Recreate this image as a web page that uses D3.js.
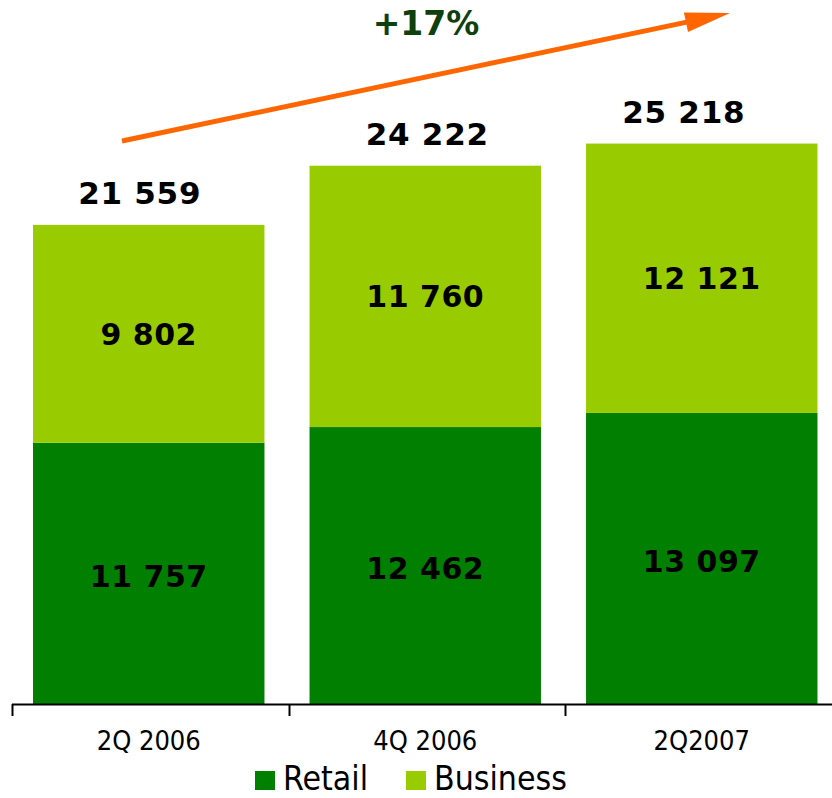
<!DOCTYPE html>
<html><head><meta charset="utf-8">
<script src="https://cdn.jsdelivr.net/npm/d3@7"></script>
<style>html,body{margin:0;padding:0;background:#fff;}svg{display:block;}</style>
</head><body>
<svg id="c" width="832" height="798"></svg>
<script>
const categories = ["2Q 2006", "4Q 2006", "2Q2007"];
const retail = [11757, 12462, 13097];
const business = [9802, 11760, 12121];
const totals = [21559, 24222, 25218];
const seriesNames = ["Retail", "Business"];
const seriesColors = ["#007f00", "#99cc00"];
const growthLabel = "+17%";
// layout-only: horizontal nudge of the total labels (as placed in the original)
const totalLabelNudge = [-9, 2, -18];

const svg = d3.select("#c");
const fmt = v => d3.format(",")(v).replace(/,/g, " ");

const x = d3.scaleBand().domain(categories).range([12, 838.5]).paddingInner(0.163).paddingOuter(0.076);
const y = d3.scaleLinear().domain([0, 30000]).range([704, 37.3]);

const data = categories.map((c, i) => ({cat: c, Retail: retail[i], Business: business[i], total: totals[i], nudge: totalLabelNudge[i]}));
const stack = d3.stack().keys(seriesNames)(data);
const color = d3.scaleOrdinal().domain(seriesNames).range(seriesColors);

const g = svg.append("g");
stack.forEach((s, si) => {
  g.selectAll(null).data(s).enter().append("rect")
    .attr("x", d => x(d.data.cat))
    .attr("width", x.bandwidth())
    .attr("y", d => y(d[1]))
    .attr("height", d => y(d[0]) - y(d[1]))
    .attr("fill", color(s.key));
  g.selectAll(null).data(s).enter().append("text")
    .attr("x", d => x(d.data.cat) + x.bandwidth() / 2)
    .attr("y", d => (y(d[0]) + y(d[1])) / 2 + (si === 0 ? 3 : 0))
    .attr("dy", "0.36em")
    .attr("text-anchor", "middle")
    .attr("font-family", "DejaVu Sans")
    .attr("font-weight", "bold")
    .attr("font-size", 30)
    .attr("letter-spacing", 0.5)
    .attr("fill", "#000")
    .text(d => fmt(d.data[s.key]));
});

// totals
g.selectAll(null).data(data).enter().append("text")
  .attr("x", d => x(d.cat) + x.bandwidth() / 2 + d.nudge)
  .attr("y", d => y(d.total) - 21)
  .attr("text-anchor", "middle")
  .attr("font-family", "DejaVu Sans")
  .attr("font-weight", "bold")
  .attr("font-size", 31)
  .attr("letter-spacing", 0.7)
  .attr("fill", "#000")
  .text(d => fmt(d.total));

// axis
const ax = svg.append("g");
ax.append("line").attr("x1", 12).attr("x2", 832).attr("y1", 704.5).attr("y2", 704.5)
  .attr("stroke", "#000").attr("stroke-width", 2);
const step = x.step();
const tickXs = categories.map(c => x(c) - step * x.paddingOuter());
ax.selectAll(null).data(tickXs).enter().append("line")
  .attr("x1", d => Math.round(d) + 0.5).attr("x2", d => Math.round(d) + 0.5)
  .attr("y1", 704).attr("y2", 716).attr("stroke", "#000").attr("stroke-width", 2);
ax.selectAll(null).data(categories).enter().append("text")
  .attr("x", d => x(d) + x.bandwidth() / 2)
  .attr("y", 750)
  .attr("text-anchor", "middle")
  .attr("font-family", "DejaVu Sans Condensed, DejaVu Sans")
  .attr("font-stretch", "condensed")
  .attr("font-size", 27)
  .attr("fill", "#000")
  .text(d => d);

// legend
const leg = svg.append("g");
const legItems = [{name: seriesNames[0], sx: 255, tx: 283}, {name: seriesNames[1], sx: 406, tx: 434}];
legItems.forEach(it => {
  leg.append("rect").attr("x", it.sx).attr("y", 771).attr("width", 20).attr("height", 19).attr("fill", color(it.name));
  leg.append("text").attr("x", it.tx).attr("y", 790)
    .attr("font-family", "DejaVu Sans Condensed, DejaVu Sans")
    .attr("font-stretch", "condensed")
    .attr("font-size", 33.5)
    .attr("fill", "#000")
    .text(it.name);
});

// growth arrow annotation
const a0 = [122, 141], tip = [730, 13];
const ang = Math.atan2(tip[1] - a0[1], tip[0] - a0[0]);
const headLen = 45, headHalf = 10;
const ux = Math.cos(ang), uy = Math.sin(ang);
const base = [tip[0] - headLen * ux, tip[1] - headLen * uy];
svg.append("line").attr("x1", a0[0]).attr("y1", a0[1]).attr("x2", base[0] + 2 * ux).attr("y2", base[1] + 2 * uy)
  .attr("stroke", "#ff6600").attr("stroke-width", 5);
svg.append("path")
  .attr("d", d3.line()([tip, [base[0] - headHalf * uy, base[1] + headHalf * ux], [base[0] + headHalf * uy, base[1] - headHalf * ux]]) + "Z")
  .attr("fill", "#ff6600");
svg.append("text").attr("x", 426).attr("y", 35).attr("text-anchor", "middle")
  .attr("font-family", "DejaVu Sans").attr("font-weight", "bold").attr("font-size", 33)
  .attr("fill", "#0d400d").text(growthLabel);
</script>
</body></html>
